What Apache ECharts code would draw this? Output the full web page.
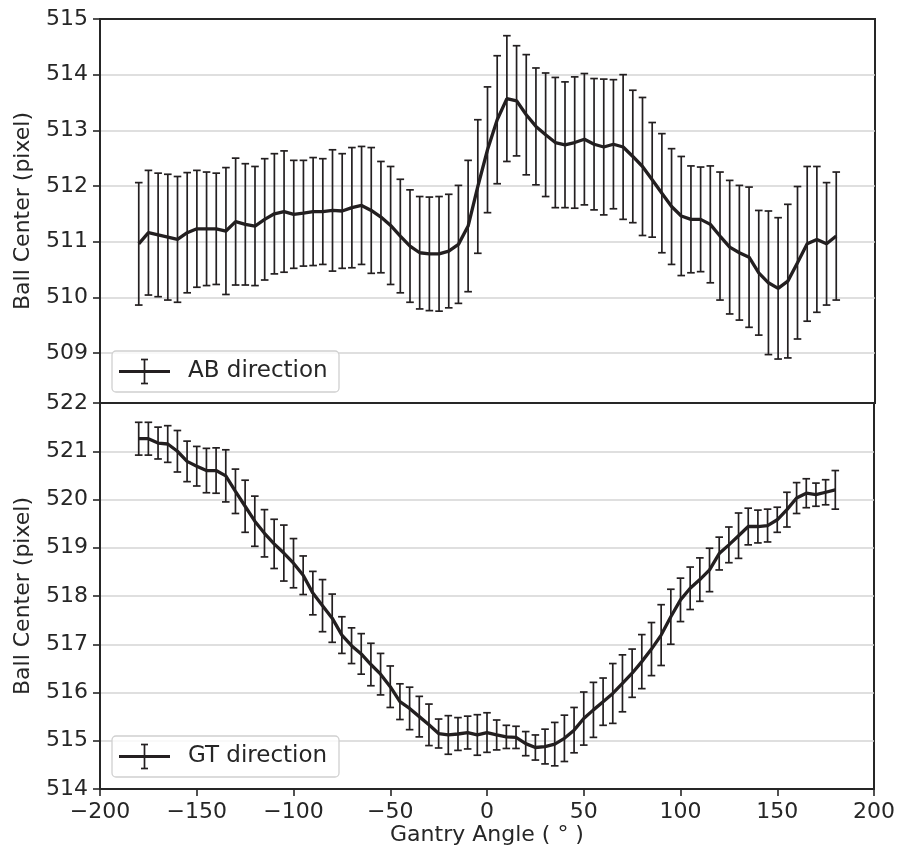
<!DOCTYPE html>
<html lang="en">
<head>
    <meta charset="UTF-8">
    <title>Ball Center vs Gantry Angle</title>
    <script src="https://cdn.jsdelivr.net/npm/echarts@6/dist/echarts.min.js"></script>
    <style>
        html, body { margin: 0; padding: 0; background: #fff; }
        #box { width: 898px; height: 856px; }
    </style>
</head>
<body>
<div id="box"></div>
<script>
    // gantry angles (deg)
    var angles = [-180, -175, -170, -165, -160, -155, -150, -145, -140, -135,
        -130, -125, -120, -115, -110, -105, -100, -95, -90, -85,
        -80, -75, -70, -65, -60, -55, -50, -45, -40, -35,
        -30, -25, -20, -15, -10, -5, 0, 5, 10, 15,
        20, 25, 30, 35, 40, 45, 50, 55, 60, 65,
        70, 75, 80, 85, 90, 95, 100, 105, 110, 115,
        120, 125, 130, 135, 140, 145, 150, 155, 160, 165,
        170, 175, 180];

    // AB direction
    var abMean = [510.96, 511.16, 511.12, 511.08, 511.04, 511.16, 511.23, 511.23, 511.23, 511.19,
        511.36, 511.31, 511.28, 511.40, 511.50, 511.54, 511.49, 511.51, 511.54, 511.54,
        511.56, 511.55, 511.61, 511.65, 511.56, 511.44, 511.29, 511.10, 510.92, 510.80,
        510.78, 510.78, 510.83, 510.95, 511.28, 511.99, 512.65, 513.19, 513.57, 513.53,
        513.28, 513.07, 512.92, 512.78, 512.74, 512.78, 512.84, 512.75, 512.70, 512.75,
        512.70, 512.53, 512.35, 512.11, 511.87, 511.63, 511.46, 511.40, 511.40, 511.31,
        511.10, 510.90, 510.80, 510.72, 510.44, 510.26, 510.16, 510.29, 510.62, 510.96,
        511.04, 510.96, 511.10];
    var abErr = [1.10, 1.12, 1.11, 1.13, 1.13, 1.08, 1.05, 1.02, 1.00, 1.14,
        1.14, 1.09, 1.07, 1.09, 1.08, 1.09, 0.97, 0.95, 0.97, 0.95,
        1.09, 1.03, 1.08, 1.06, 1.13, 1.00, 1.06, 1.02, 1.01, 1.01,
        1.02, 1.03, 1.02, 1.06, 1.18, 1.20, 1.13, 1.15, 1.13, 0.99,
        1.08, 1.05, 1.11, 1.17, 1.13, 1.18, 1.18, 1.18, 1.22, 1.16,
        1.30, 1.19, 1.24, 1.03, 1.07, 1.04, 1.07, 0.96, 0.94, 1.05,
        1.15, 1.20, 1.21, 1.26, 1.12, 1.29, 1.27, 1.38, 1.37, 1.39,
        1.31, 1.10, 1.15];

    // GT direction
    var gtMean = [521.26, 521.26, 521.17, 521.15, 521.00, 520.79, 520.69, 520.60, 520.60, 520.49,
        520.17, 519.86, 519.55, 519.30, 519.08, 518.89, 518.68, 518.43, 518.06, 517.80,
        517.54, 517.19, 516.97, 516.80, 516.58, 516.38, 516.12, 515.81, 515.67, 515.50,
        515.33, 515.15, 515.12, 515.14, 515.17, 515.12, 515.17, 515.12, 515.08, 515.07,
        514.94, 514.86, 514.88, 514.93, 515.05, 515.22, 515.46, 515.64, 515.81, 515.98,
        516.19, 516.40, 516.64, 516.90, 517.19, 517.57, 517.92, 518.16, 518.34, 518.54,
        518.88, 519.06, 519.25, 519.44, 519.44, 519.46, 519.58, 519.79, 520.03, 520.13,
        520.10, 520.15, 520.20];
    var gtErr = [0.34, 0.34, 0.33, 0.38, 0.43, 0.42, 0.41, 0.46, 0.47, 0.54,
        0.46, 0.54, 0.52, 0.49, 0.51, 0.58, 0.51, 0.40, 0.45, 0.54,
        0.50, 0.38, 0.37, 0.42, 0.44, 0.43, 0.43, 0.37, 0.44, 0.42,
        0.43, 0.30, 0.40, 0.34, 0.34, 0.42, 0.41, 0.31, 0.24, 0.23,
        0.25, 0.26, 0.36, 0.45, 0.48, 0.47, 0.55, 0.57, 0.49, 0.62,
        0.59, 0.50, 0.56, 0.55, 0.63, 0.57, 0.45, 0.44, 0.45, 0.45,
        0.34, 0.37, 0.47, 0.38, 0.34, 0.34, 0.26, 0.36, 0.32, 0.30,
        0.24, 0.26, 0.40];

    var ink = '#231f20';
    var txt = '#262626';
    var font = 'DejaVu Sans';

    function lineData(mean) {
        return angles.map(function (a, i) { return [a, mean[i]]; });
    }
    function errData(mean, err) {
        return angles.map(function (a, i) { return [a, mean[i] - err[i], mean[i] + err[i]]; });
    }
    function renderErr(params, api) {
        var x = api.value(0);
        var lo = api.coord([x, api.value(1)]);
        var hi = api.coord([x, api.value(2)]);
        var c = 3.8;
        var st = { stroke: ink, lineWidth: 1.7 };
        return {
            type: 'group',
            children: [
                { type: 'line', shape: { x1: lo[0], y1: lo[1], x2: hi[0], y2: hi[1] }, style: st },
                { type: 'line', shape: { x1: hi[0] - c, y1: hi[1], x2: hi[0] + c, y2: hi[1] }, style: st },
                { type: 'line', shape: { x1: lo[0] - c, y1: lo[1], x2: lo[0] + c, y2: lo[1] }, style: st }
            ]
        };
    }

    var axisLine = { show: true, onZero: false, lineStyle: { color: txt, width: 2 } };
    var tick = { show: true, inside: false, length: 7, lineStyle: { color: txt, width: 1.6 } };
    var grid = { show: true, showMinLine: false, showMaxLine: false, lineStyle: { color: '#d4d4d4', width: 1.5 } };
    var lbl = { color: txt, fontFamily: font, fontSize: 22, margin: 12 };

    function xAxis(idx, showLabels) {
        return {
            type: 'value', gridIndex: idx, min: -200, max: 200, interval: 50,
            axisLine: axisLine,
            axisTick: showLabels ? tick : { show: false },
            splitLine: { show: false },
            axisLabel: {
                show: showLabels, color: txt, fontFamily: font, fontSize: 22, margin: 12,
                formatter: function (v) { return String(v).replace('-', '\u2212'); }
            },
            name: showLabels ? 'Gantry Angle ( \u00b0 )' : '',
            nameLocation: 'middle', nameGap: 34,
            nameTextStyle: { color: txt, fontFamily: font, fontSize: 22 }
        };
    }

    function legendBox(y, label) {
        var cy = y + 20.5;
        var st = { stroke: ink, lineWidth: 1.7 };
        return {
            type: 'group',
            children: [
                { type: 'rect', shape: { x: 112, y: y, width: 227, height: 41, r: 4 },
                  style: { fill: 'rgba(255,255,255,0.8)', stroke: '#d0d0d0', lineWidth: 1.3 }, z: 100 },
                { type: 'line', shape: { x1: 119, y1: cy, x2: 170, y2: cy },
                  style: { stroke: ink, lineWidth: 3.2 }, z: 101 },
                { type: 'line', shape: { x1: 144.5, y1: cy - 12, x2: 144.5, y2: cy + 12 }, style: st, z: 101 },
                { type: 'line', shape: { x1: 141, y1: cy - 12, x2: 148, y2: cy - 12 }, style: st, z: 101 },
                { type: 'line', shape: { x1: 141, y1: cy + 12, x2: 148, y2: cy + 12 }, style: st, z: 101 },
                { type: 'text', x: 188, y: cy, z: 101,
                  style: { text: label, fill: txt, font: '23px "DejaVu Sans"', textVerticalAlign: 'middle' } }
            ]
        };
    }

    var chart = echarts.init(document.getElementById('box'));
    var option = {
        animation: false,
        backgroundColor: '#fff',
        grid: [
            { left: 100, right: 23, top: 19, height: 384, show: true, borderColor: txt, borderWidth: 2 },
            { left: 100, right: 23, top: 403, height: 386, show: true, borderColor: txt, borderWidth: 2 }
        ],
        xAxis: [xAxis(0, false), xAxis(1, true)],
        yAxis: [
            {
                type: 'value', gridIndex: 0, min: 508.1, max: 515, minInterval: 1, maxInterval: 1,
                axisLine: axisLine, axisTick: tick, splitLine: grid,
                axisLabel: { color: txt, fontFamily: font, fontSize: 22, margin: 12, showMinLabel: false },
                name: 'Ball Center (pixel)', nameLocation: 'middle', nameGap: 66,
                nameTextStyle: { color: txt, fontFamily: font, fontSize: 22 }
            },
            {
                type: 'value', gridIndex: 1, min: 514, max: 522, interval: 1,
                axisLine: axisLine, axisTick: tick, splitLine: grid,
                axisLabel: lbl,
                name: 'Ball Center (pixel)', nameLocation: 'middle', nameGap: 66,
                nameTextStyle: { color: txt, fontFamily: font, fontSize: 22 }
            }
        ],
        series: [
            { type: 'line', xAxisIndex: 0, yAxisIndex: 0, data: lineData(abMean), showSymbol: false,
              lineStyle: { color: ink, width: 3.3 }, z: 3 },
            { type: 'custom', xAxisIndex: 0, yAxisIndex: 0, data: errData(abMean, abErr),
              renderItem: renderErr, z: 4 },
            { type: 'line', xAxisIndex: 1, yAxisIndex: 1, data: lineData(gtMean), showSymbol: false,
              lineStyle: { color: ink, width: 3.3 }, z: 3 },
            { type: 'custom', xAxisIndex: 1, yAxisIndex: 1, data: errData(gtMean, gtErr),
              renderItem: renderErr, z: 4 }
        ],
        graphic: [legendBox(351, 'AB direction'), legendBox(736, 'GT direction')]
    };
    chart.setOption(option);
</script>
</body>
</html>
